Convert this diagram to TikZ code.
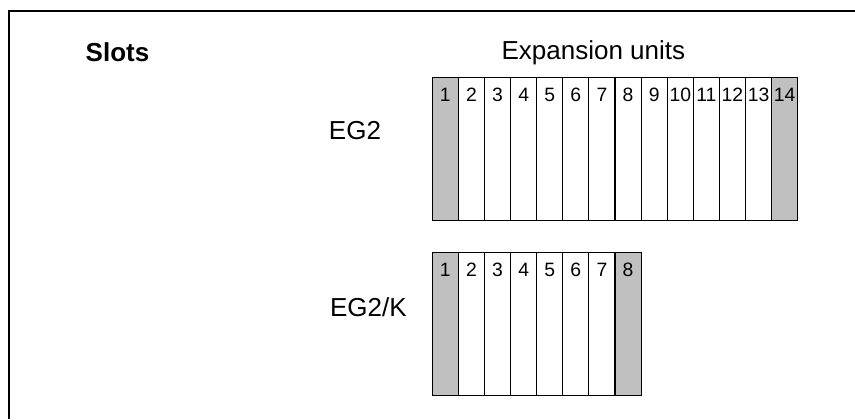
\documentclass[tikz,border=0pt]{standalone}
\usepackage{fontspec}
\setmainfont{Liberation Sans}
\definecolor{slotgray}{RGB}{192,192,192}
\begin{document}
\begin{tikzpicture}[x=0.75pt,y=-0.75pt,
  cell/.style={draw, line width=0.8pt, fill=white, minimum width=19.575pt,
    minimum height=107.3pt, inner sep=0pt, outer sep=0pt, anchor=north west},
  endcell/.style={cell, fill=slotgray},
  num/.style={font=\fontsize{14.5}{14.5}\selectfont, inner sep=0pt, anchor=base},
  lbl/.style={font=\fontsize{19.5}{19.5}\selectfont, inner sep=0pt, anchor=base},
  frameline/.style={line width=0.9pt}]
\useasboundingbox (0,0) rectangle (855,419);
% frame
\coordinate (ftr) at (855,11);
\coordinate (fbl) at (9,419);
\draw[frameline] (ftr) -| (fbl);
% titles
\node[lbl, font=\fontsize{19.5}{19.5}\selectfont\bfseries] (slots) at (117.5,61.7) {Slots};
\node[lbl] (exp) at (593.4,59) {Expansion units};
\node[lbl] (eg2) at (355,139) {EG2};
\node[lbl] (eg2k) at (368.3,316) {EG2/K};
% EG2 rack
\foreach \i in {2,...,13}{
  \node[cell] (a\i) at ({432.3+(\i-1)*26.1},77.3) {};
}
\node[endcell] (a1) at (432.3,77.3) {};
\node[endcell] (a14) at ({432.3+13*26.1},77.3) {};
\foreach \i in {1,...,14}{
  \node[num] (na\i) at ([yshift=-18.4pt]a\i.north) {\i};
}
% EG2/K rack
\foreach \i in {2,...,7}{
  \node[cell] (b\i) at ({432.3+(\i-1)*26.1},252.3) {};
}
\node[endcell] (b1) at (432.3,252.3) {};
\node[endcell] (b8) at ({432.3+7*26.1},252.3) {};
\foreach \i in {1,...,8}{
  \node[num] (nb\i) at ([yshift=-18.5pt]b\i.north) {\i};
}
\end{tikzpicture}
\end{document}
